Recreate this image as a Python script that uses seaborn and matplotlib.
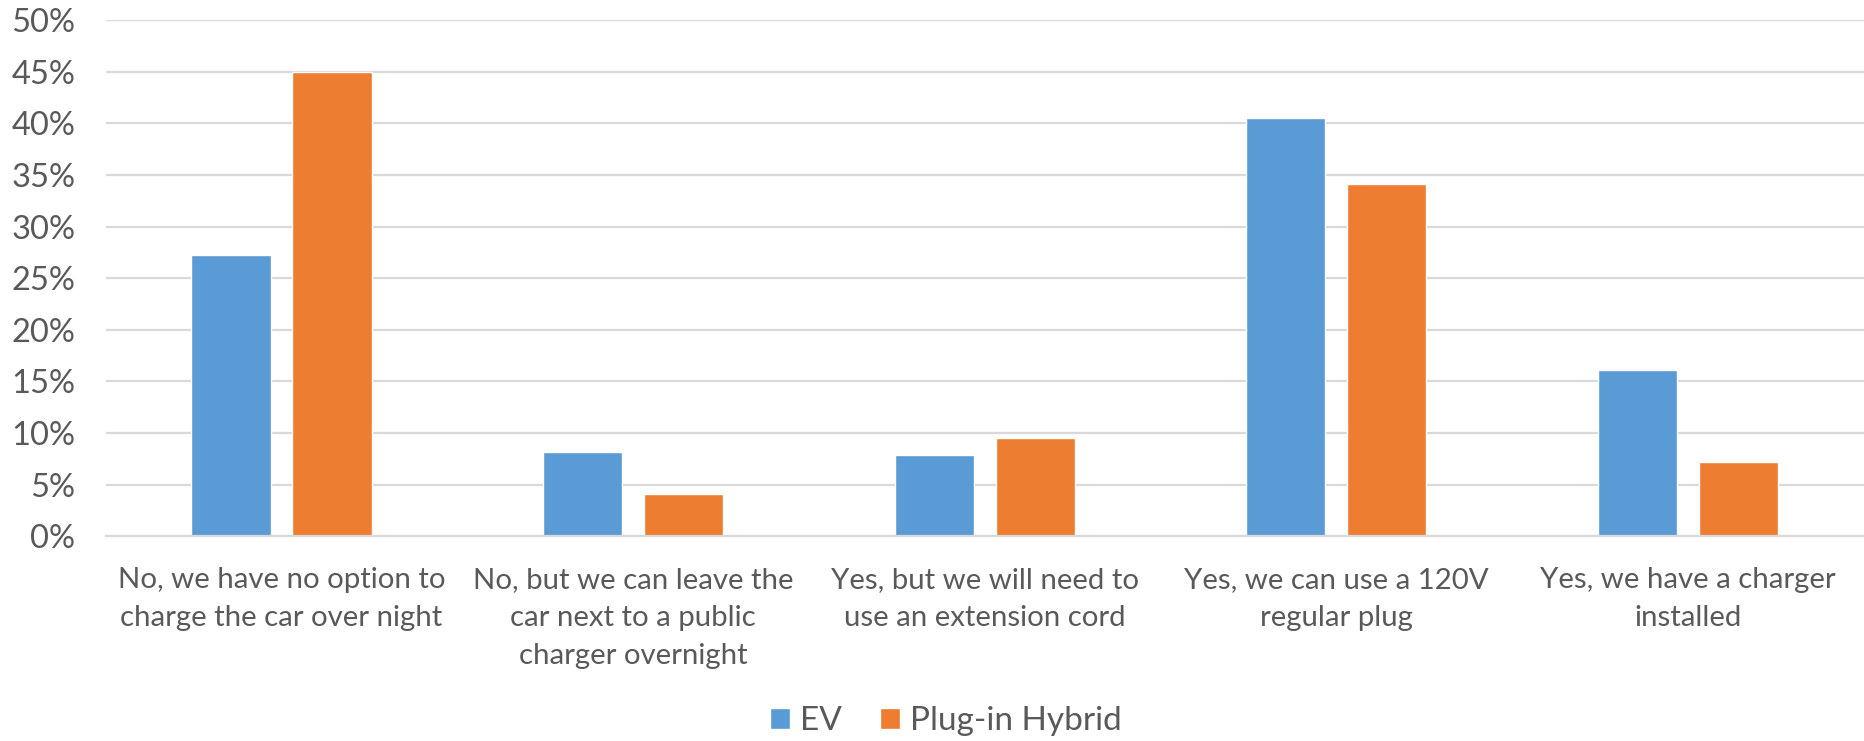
import matplotlib
matplotlib.use("Agg")
import matplotlib.pyplot as plt
import seaborn as sns
import pandas as pd
from matplotlib.ticker import PercentFormatter

# Survey answers: can the household charge a car overnight?
categories = [
    "No, we have no option to\ncharge the car over night",
    "No, but we can leave the\ncar next to a public\ncharger overnight",
    "Yes, but we will need to\nuse an extension cord",
    "Yes, we can use a 120V\nregular plug",
    "Yes, we have a charger\ninstalled",
]
series_names = ["EV", "Plug-in Hybrid"]
ev_share = [27.2, 8.2, 7.9, 40.5, 16.1]
phev_share = [45.0, 4.1, 9.5, 34.1, 7.2]
y_ticks = [0, 5, 10, 15, 20, 25, 30, 35, 40, 45, 50]

colors = {"EV": "#5B9BD5", "Plug-in Hybrid": "#ED7D31"}
text_color = "#595959"
grid_color = "#D9D9D9"

df = pd.DataFrame({
    "category": categories * 2,
    "series": [series_names[0]] * len(categories) + [series_names[1]] * len(categories),
    "share": ev_share + phev_share,
})

sns.set_theme(style="white")
plt.rcParams["font.family"] = ["Lato", "DejaVu Sans"]

W, H = 1865, 741
fig = plt.figure(figsize=(W / 100, H / 100), dpi=100)
ax = fig.add_axes([105.7 / W, 1 - 536.4 / H, (1863.7 - 105.7) / W, (536.4 - 20.0) / H])

sns.barplot(
    data=df, x="category", y="share", hue="series",
    hue_order=series_names, order=categories, palette=colors,
    width=0.574, gap=0.216, saturation=1, ax=ax, legend=True,
)

ax.set_xlim(-0.5, len(categories) - 0.5)
ax.set_ylim(0, 50)
ax.set_yticks(y_ticks)
ax.yaxis.set_major_formatter(PercentFormatter(decimals=0))
ax.set_xlabel("")
ax.set_ylabel("")
ax.grid(axis="y", color=grid_color, linewidth=1.6)
ax.set_axisbelow(True)
for side in ["top", "right", "left"]:
    ax.spines[side].set_visible(False)
ax.spines["bottom"].set_color(grid_color)
ax.spines["bottom"].set_linewidth(1.6)

ax.tick_params(axis="y", length=0, pad=22, labelsize=23.5, labelcolor=text_color)
ax.tick_params(axis="x", length=0, pad=22, labelsize=21.2, labelcolor=text_color)
for lbl in ax.get_xticklabels():
    lbl.set_linespacing(1.57)
    lbl.set_verticalalignment("top")

handles, labels = ax.get_legend_handles_labels()
ax.get_legend().remove()
fig.legend(
    handles, labels, loc="center", bbox_to_anchor=(946 / W, 1 - 721 / H),
    ncol=2, frameon=False, fontsize=24, labelcolor=text_color,
    handlelength=0.6, handleheight=0.6, handletextpad=0.3, columnspacing=1.15,
)

fig.savefig("out.png", dpi=100, facecolor="white")
